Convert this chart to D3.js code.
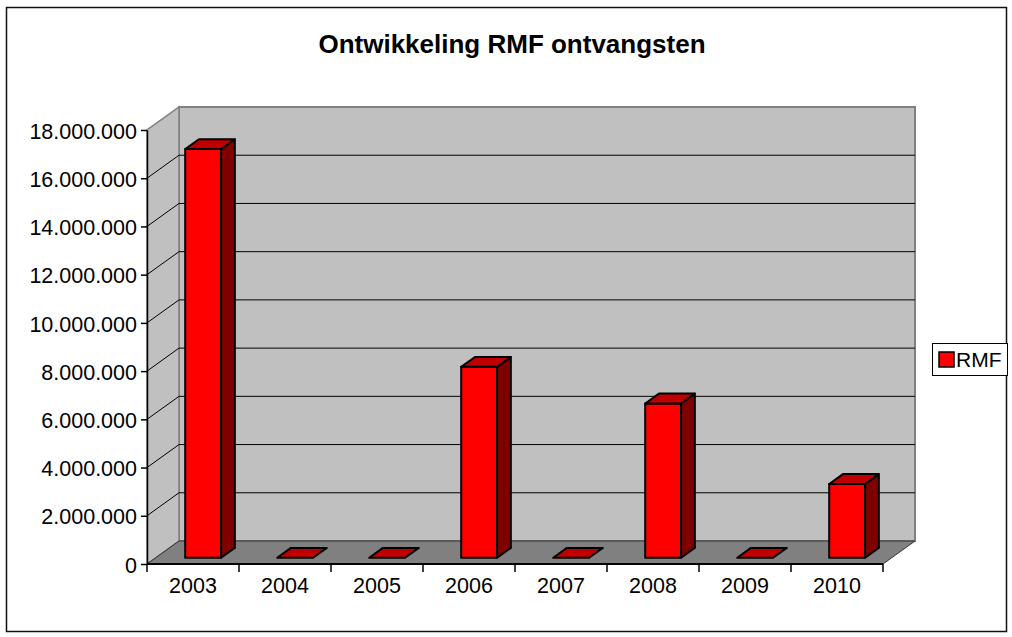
<!DOCTYPE html>
<html>
<head>
<meta charset="utf-8">
<script src="https://cdn.jsdelivr.net/npm/d3@7"></script>
<style>
  body { margin: 0; background: #fff; }
  svg text { font-family: "Liberation Sans", Arial, sans-serif; fill: #000; }
</style>
</head>
<body>
<div id="chart"></div>
<script>
// chart data
var categories = ["2003", "2004", "2005", "2006", "2007", "2008", "2009", "2010"];
var rmfValues = [16950000, 0, 0, 7920000, 0, 6400000, 0, 3060000];
var yTicks = [0, 2000000, 4000000, 6000000, 8000000, 10000000, 12000000, 14000000, 16000000, 18000000];
var seriesName = "RMF";
var title = "Ontwikkeling RMF ontvangsten";

var width = 1012, height = 637;
var DX = 32, DY = -23;        // depth offset of the back wall
var F0 = 0.27, F1 = 0.70;     // bar depth (fraction of the floor depth)

var svg = d3.select("#chart").append("svg")
  .attr("width", width)
  .attr("height", height);

// outer frame
svg.append("rect")
  .attr("x", 6.5).attr("y", 7.5)
  .attr("width", 1000).attr("height", 624)
  .attr("fill", "#fff")
  .attr("stroke", "#111")
  .attr("stroke-width", 1.5);

var x = d3.scaleBand().domain(categories).range([147, 883]);
var y = d3.scaleLinear().domain([0, 18000000]).range([564, 130]);

// project a front-plane point back by fraction f of the depth
function P(px, v, f) { return [px + f * DX, y(v) + f * DY]; }
function poly(pts) { return "M" + pts.map(function(p) { return p.join(","); }).join("L") + "Z"; }

var x0 = x.range()[0], x1 = x.range()[1];
var vMax = y.domain()[1];

// back wall
svg.append("path")
  .attr("d", poly([P(x0, 0, 1), P(x0, vMax, 1), P(x1, vMax, 1), P(x1, 0, 1)]))
  .attr("fill", "#c0c0c0")
  .attr("stroke", "#808080")
  .attr("stroke-width", 2);

// side wall
svg.append("path")
  .attr("d", poly([P(x0, 0, 0), P(x0, vMax, 0), P(x0, vMax, 1), P(x0, 0, 1)]))
  .attr("fill", "#c0c0c0")
  .attr("stroke", "#808080")
  .attr("stroke-width", 1.5);

// floor
svg.append("path")
  .attr("d", poly([P(x0, 0, 0), P(x0, 0, 1), P(x1, 0, 1), P(x1, 0, 0)]))
  .attr("fill", "#808080")
  .attr("stroke", "#333")
  .attr("stroke-width", 1);

// gridlines (side wall + back wall)
var grid = svg.append("g").attr("stroke", "#000").attr("stroke-width", 1).attr("fill", "none");
yTicks.filter(function(v) { return v > 0 && v < vMax; }).forEach(function(v) {
  grid.append("path")
    .attr("d", "M" + P(x0, v, 0).join(",") + "L" + P(x0, v, 1).join(",") + "L" + P(x1, v, 1).join(","));
});

// bars
var bw = x.bandwidth() * 0.39;
var bars = svg.append("g")
  .attr("stroke", "#000")
  .attr("stroke-width", 2)
  .attr("stroke-linejoin", "round");

categories.forEach(function(c, i) {
  var v = rmfValues[i];
  var l = x(c) + (x.bandwidth() - bw) / 2 + 1.5, r = l + bw;
  var g = bars.append("g");
  if (v > 0) {
    g.append("path").attr("fill", "#ff0000")
      .attr("d", poly([P(l, 0, F0), P(l, v, F0), P(r, v, F0), P(r, 0, F0)]));
    g.append("path").attr("fill", "#800000")
      .attr("d", poly([P(r, 0, F0), P(r, v, F0), P(r, v, F1), P(r, 0, F1)]));
  }
  g.append("path").attr("fill", "#c00000")
    .attr("d", poly([P(l, v, F0), P(l, v, F1), P(r, v, F1), P(r, v, F0)]));
});

// value axis
var nl = d3.formatLocale({ decimal: ",", thousands: ".", grouping: [3], currency: ["", ""] });
var yAxis = d3.axisLeft(y)
  .tickValues(yTicks)
  .tickFormat(nl.format(",d"))
  .tickSize(6)
  .tickSizeOuter(0)
  .tickPadding(4);

var ya = svg.append("g")
  .attr("transform", "translate(" + x0 + ",0)")
  .call(yAxis);
ya.select(".domain").attr("stroke", "#000").attr("stroke-width", 1.5);
ya.selectAll(".tick line").attr("stroke", "#000").attr("stroke-width", 1.5);
ya.selectAll(".tick text")
  .attr("dy", "0.38em")
  .style("font-family", "'Liberation Sans', Arial, sans-serif")
  .style("font-size", "21.5px")
  .attr("fill", "#000");

// category axis
var xAxis = d3.axisBottom(x).tickSize(0).tickPadding(14);
var xa = svg.append("g")
  .attr("transform", "translate(0," + y(0) + ")")
  .call(xAxis);
xa.select(".domain").remove();
xa.selectAll(".tick text")
  .style("font-family", "'Liberation Sans', Arial, sans-serif")
  .style("font-size", "21.5px")
  .attr("fill", "#000");

svg.append("line")
  .attr("x1", x0).attr("x2", x1)
  .attr("y1", y(0)).attr("y2", y(0))
  .attr("stroke", "#000").attr("stroke-width", 2);

// category boundary ticks
svg.append("g").selectAll("line")
  .data(categories.concat([null]))
  .enter().append("line")
  .attr("x1", function(d, i) { return x0 + i * x.step(); })
  .attr("x2", function(d, i) { return x0 + i * x.step(); })
  .attr("y1", y(0))
  .attr("y2", y(0) + 8)
  .attr("stroke", "#000")
  .attr("stroke-width", 1.5);

// title
svg.append("text")
  .attr("x", 512)
  .attr("y", 53)
  .attr("text-anchor", "middle")
  .style("font-size", "26px")
  .style("font-weight", "bold")
  .text(title);

// legend
var lg = svg.append("g");
lg.append("rect")
  .attr("x", 932.5).attr("y", 343.5)
  .attr("width", 75).attr("height", 32)
  .attr("fill", "#fff").attr("stroke", "#000").attr("stroke-width", 1);
lg.append("rect")
  .attr("x", 939).attr("y", 352)
  .attr("width", 15).attr("height", 15)
  .attr("fill", "#ff0000").attr("stroke", "#000").attr("stroke-width", 1.5);
lg.append("text")
  .attr("x", 956).attr("y", 367)
  .style("font-size", "21px")
  .text(seriesName);
</script>
</body>
</html>
